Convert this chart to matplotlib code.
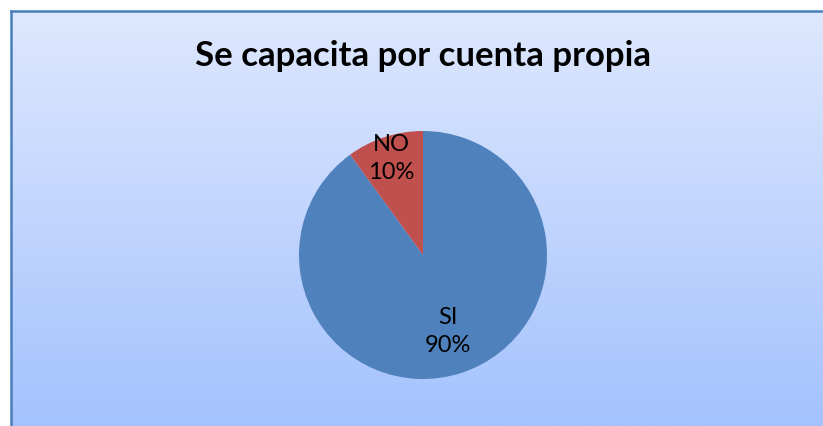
import numpy as np
import matplotlib.pyplot as plt
from matplotlib.colors import LinearSegmentedColormap
from matplotlib.lines import Line2D

W, H = 823, 427

title = "Se capacita por cuenta propia"
categories = ["SI", "NO"]
values = [90, 10]
colors = ["#4F81BD", "#C0504D"]

fig = plt.figure(figsize=(W / 100, H / 100), dpi=100, facecolor="white")

# chart area with the vertical gradient (Excel-style), runs off right/bottom edges
x0 = 11 / W
top = 1 - 12 / H
bg = fig.add_axes([x0, 0, 1 - x0, top])
cmap = LinearSegmentedColormap.from_list("bg", ["#A4C2FE", "#DEE8FD"])
grad = np.linspace(0, 1, 256).reshape(-1, 1)
bg.imshow(grad, aspect="auto", cmap=cmap, origin="lower", extent=[0, 1, 0, 1])
bg.set_xlim(0, 1)
bg.set_ylim(0, 1)
bg.set_axis_off()

# border only on left and top (the frame is cut off at right and bottom)
fig.add_artist(Line2D([x0, x0], [0, top], color="#4A7EBB", lw=1.8,
                      transform=fig.transFigure))
fig.add_artist(Line2D([x0, 1.01], [top, top], color="#4A7EBB", lw=1.8,
                      transform=fig.transFigure))

fig.text(423 / W, 1 - 56 / H, title, ha="center", va="center",
         fontsize=25, fontweight="bold", family="Lato", color="black")

# pie
cx, cy, r = 423, 256, 124
ax = fig.add_axes([(cx - r) / W, (H - cy - r) / H, 2 * r / W, 2 * r / H])
wedges, _ = ax.pie(values, colors=colors, startangle=90, counterclock=False,
                   radius=1.0, wedgeprops=dict(linewidth=0))
ax.set_xlim(-1, 1)
ax.set_ylim(-1, 1)
ax.set_aspect("equal")
ax.axis("off")

dists = [0.64, 0.83]
total = sum(values)
for w, cat, v, d in zip(wedges, categories, values, dists):
    ang = np.deg2rad((w.theta1 + w.theta2) / 2)
    ax.text(d * np.cos(ang), d * np.sin(ang), f"{cat}\n{round(100 * v / total)}%",
            ha="center", va="center", fontsize=17, family="Lato",
            linespacing=1.4, color="black")

fig.savefig("out.png", dpi=100)
